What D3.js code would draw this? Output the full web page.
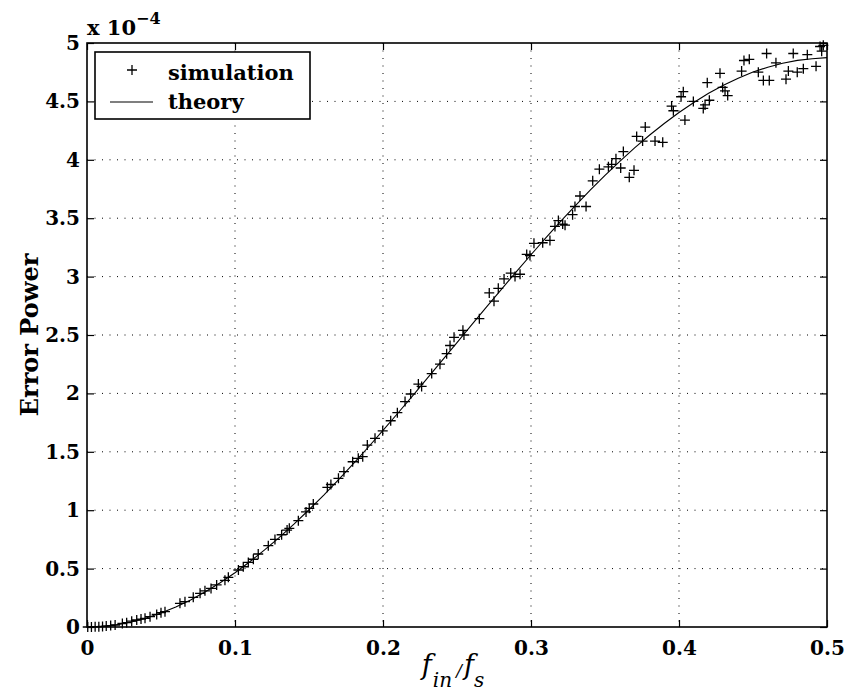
<!DOCTYPE html>
<html>
<head>
<meta charset="utf-8">
<script src="https://cdn.jsdelivr.net/npm/d3@7"></script>
<style>
  body { margin: 0; background: #fff; }
  svg { display: block; }
</style>
</head>
<body>
<div id="root"></div>
<script>
// values are in units of 1e-4 (axis multiplier shown as "x 10^-4")
const simX = [0.0005, 0.003, 0.0055, 0.008, 0.0105, 0.013, 0.016, 0.019,
  0.0239, 0.0268, 0.0302, 0.0336, 0.0365, 0.0392, 0.0426, 0.0471, 0.05, 0.0527,
  0.0628, 0.0662, 0.0718, 0.0764, 0.0797, 0.0838, 0.0876, 0.0932, 0.0955,
  0.1023, 0.1056, 0.109, 0.1124, 0.1157, 0.1225, 0.127, 0.1315, 0.1352, 0.1367,
  0.1428, 0.148, 0.1502, 0.1529, 0.1624, 0.1648, 0.1699, 0.1736, 0.1795, 0.1833,
  0.1863, 0.1894, 0.1946, 0.1998, 0.2052, 0.2097, 0.2149, 0.2187, 0.2239, 0.2261,
  0.2329, 0.2385, 0.243, 0.2453, 0.248, 0.254, 0.2547, 0.2651, 0.2718, 0.275,
  0.2779, 0.2818, 0.2863, 0.2892, 0.2926, 0.2971, 0.2993, 0.302, 0.3079, 0.3128,
  0.3162, 0.3185, 0.3214, 0.323, 0.3281, 0.3297, 0.3331, 0.3372, 0.3417, 0.3462,
  0.3523, 0.3545, 0.3574, 0.3606, 0.3624, 0.3664, 0.3696, 0.3714, 0.3754, 0.3772,
  0.3838, 0.389, 0.395, 0.3962, 0.4014, 0.4029, 0.404, 0.4097, 0.4164, 0.4176,
  0.4191, 0.4205, 0.4277, 0.4295, 0.4311, 0.4329, 0.4423, 0.4439, 0.4475, 0.4536,
  0.457, 0.4592, 0.461, 0.4655, 0.4723, 0.4739, 0.4772, 0.4799, 0.484, 0.4867,
  0.4926, 0.4953, 0.4964, 0.4975];
const simY = [0, 0.001, 0.002, 0.003, 0.005, 0.008, 0.012, 0.017,
  0.03, 0.037, 0.05, 0.06, 0.068, 0.074, 0.088, 0.108, 0.123, 0.131,
  0.203, 0.217, 0.254, 0.288, 0.31, 0.33, 0.36, 0.4, 0.425,
  0.488, 0.516, 0.553, 0.58, 0.625, 0.696, 0.75, 0.79, 0.83, 0.845,
  0.91, 0.985, 1.016, 1.053, 1.196, 1.22, 1.273, 1.33, 1.415, 1.444,
  1.458, 1.558, 1.615, 1.68, 1.766, 1.835, 1.93, 1.995, 2.08, 2.06,
  2.17, 2.25, 2.34, 2.41, 2.48, 2.54, 2.5, 2.64, 2.86, 2.79,
  2.9, 2.98, 3.03, 3.0, 3.02, 3.19, 3.18, 3.285, 3.29, 3.31,
  3.43, 3.48, 3.45, 3.44, 3.53, 3.6, 3.69, 3.6, 3.82, 3.92,
  3.94, 3.96, 4.01, 3.93, 4.07, 3.85, 3.91, 4.2, 4.16, 4.28,
  4.16, 4.15, 4.46, 4.42, 4.54, 4.583, 4.34, 4.5, 4.44, 4.47,
  4.66, 4.51, 4.74, 4.62, 4.59, 4.55, 4.76, 4.85, 4.86, 4.75,
  4.68, 4.91, 4.68, 4.83, 4.69, 4.76, 4.91, 4.75, 4.78, 4.9,
  4.8, 4.97, 4.93, 4.98];

const theoryX = [0, 0.01, 0.02, 0.03, 0.04, 0.05, 0.06, 0.07, 0.08, 0.09,
  0.1, 0.11, 0.12, 0.13, 0.14, 0.15, 0.16, 0.17, 0.18, 0.19,
  0.2, 0.21, 0.22, 0.23, 0.24, 0.25, 0.26, 0.27, 0.28, 0.29,
  0.3, 0.31, 0.32, 0.33, 0.34, 0.35, 0.36, 0.37, 0.38, 0.39,
  0.4, 0.41, 0.42, 0.43, 0.44, 0.45, 0.46, 0.47, 0.48, 0.49, 0.5];
const theoryY = [0, 0.005, 0.019, 0.043, 0.077, 0.119, 0.171, 0.232, 0.301, 0.379,
  0.465, 0.559, 0.66, 0.768, 0.883, 1.004, 1.13, 1.262, 1.398, 1.539,
  1.683, 1.83, 1.979, 2.13, 2.282, 2.435, 2.588, 2.74, 2.891, 3.04,
  3.187, 3.332, 3.472, 3.608, 3.74, 3.866, 3.987, 4.102, 4.21, 4.311,
  4.405, 4.491, 4.569, 4.638, 4.699, 4.751, 4.793, 4.827, 4.851, 4.865, 4.875];

const xTicks = [0, 0.1, 0.2, 0.3, 0.4, 0.5];
const xTickLabels = ["0", "0.1", "0.2", "0.3", "0.4", "0.5"];
const yTicks = [0, 0.5, 1, 1.5, 2, 2.5, 3, 3.5, 4, 4.5, 5];
const yTickLabels = ["0", "0.5", "1", "1.5", "2", "2.5", "3", "3.5", "4", "4.5", "5"];
const legendLabels = ["simulation", "theory"];

const w = 846;
const h = 700;
const pLeft = 87, pRight = 827, pTop = 43, pBottom = 627;
const font = "'DejaVu Serif', serif";

const xScale = d3.scaleLinear().domain([0, 0.5]).range([pLeft, pRight]);
const yScale = d3.scaleLinear().domain([0, 5]).range([pBottom, pTop]);

const svg = d3.select("#root")
  .append("svg")
  .attr("width", w)
  .attr("height", h)
  .style("background", "#fff");

// dotted grid
svg.append("g")
  .selectAll("line")
  .data(xTicks.slice(1, -1))
  .enter()
  .append("line")
  .attr("x1", d => xScale(d)).attr("x2", d => xScale(d))
  .attr("y1", pTop).attr("y2", pBottom)
  .attr("stroke", "#000")
  .attr("stroke-width", 1)
  .attr("stroke-dasharray", "1,6.5");

svg.append("g")
  .selectAll("line")
  .data(yTicks.slice(1, -1))
  .enter()
  .append("line")
  .attr("x1", pLeft).attr("x2", pRight)
  .attr("y1", d => yScale(d)).attr("y2", d => yScale(d))
  .attr("stroke", "#000")
  .attr("stroke-width", 1)
  .attr("stroke-dasharray", "1,6.5");

// axes, ticks pointing inward on all sides
const styleAxis = g => {
  g.select(".domain").remove();
  g.selectAll(".tick line").attr("stroke", "#000").attr("stroke-width", 1.2);
  g.selectAll("text")
    .attr("fill", "#000")
    .style("font-family", font)
    .style("font-weight", "bold")
    .style("font-size", "20px");
};

svg.append("g")
  .attr("transform", `translate(0, ${pBottom})`)
  .call(d3.axisBottom(xScale).tickValues(xTicks)
    .tickFormat((d, i) => xTickLabels[i])
    .tickSizeInner(-7).tickSizeOuter(0).tickPadding(14))
  .call(styleAxis);

svg.append("g")
  .attr("transform", `translate(0, ${pTop})`)
  .call(d3.axisTop(xScale).tickValues(xTicks).tickFormat("")
    .tickSizeInner(-7).tickSizeOuter(0))
  .call(styleAxis);

svg.append("g")
  .attr("transform", `translate(${pLeft}, 0)`)
  .call(d3.axisLeft(yScale).tickValues(yTicks)
    .tickFormat((d, i) => yTickLabels[i])
    .tickSizeInner(-7).tickSizeOuter(0).tickPadding(7))
  .call(styleAxis);

svg.append("g")
  .attr("transform", `translate(${pRight}, 0)`)
  .call(d3.axisRight(yScale).tickValues(yTicks).tickFormat("")
    .tickSizeInner(-7).tickSizeOuter(0))
  .call(styleAxis);

svg.append("rect")
  .attr("x", pLeft).attr("y", pTop)
  .attr("width", pRight - pLeft).attr("height", pBottom - pTop)
  .attr("fill", "none")
  .attr("stroke", "#000")
  .attr("stroke-width", 1.6);

// theory line
const line = d3.line()
  .x((d, i) => xScale(theoryX[i]))
  .y((d, i) => yScale(theoryY[i]));

svg.append("path")
  .datum(theoryY)
  .attr("d", line)
  .attr("fill", "none")
  .attr("stroke", "#000")
  .attr("stroke-width", 1.1);

// simulation markers
const plus = (x, y, r) => `M${x - r},${y}H${x + r}M${x},${y - r}V${y + r}`;

svg.append("path")
  .attr("d", simX.map((d, i) => plus(xScale(d), yScale(simY[i]), 5)).join(""))
  .attr("fill", "none")
  .attr("stroke", "#000")
  .attr("stroke-width", 1.3);

// multiplier label
const mult = svg.append("text")
  .attr("x", pLeft)
  .attr("y", 35)
  .style("font-family", font)
  .style("font-weight", "bold")
  .style("font-size", "21px");
mult.append("tspan").text("x 10");
mult.append("tspan").attr("dy", -11).style("font-size", "16px").text("\u22124");

// axis labels
svg.append("text")
  .attr("transform", `translate(38, ${(pTop + pBottom) / 2}) rotate(-90)`)
  .attr("text-anchor", "middle")
  .style("font-family", font)
  .style("font-weight", "bold")
  .style("font-size", "24px")
  .text("Error Power");

const xl = svg.append("text")
  .attr("x", 453)
  .attr("y", 674)
  .attr("text-anchor", "middle")
  .style("font-family", font)
  .style("font-style", "italic")
  .style("font-size", "27px");
xl.append("tspan").text("f");
xl.append("tspan").attr("dy", 13).attr("dx", 1).style("font-size", "20px").text("in");
xl.append("tspan").attr("dy", -11).attr("dx", 4).style("font-size", "17px").text("/");
xl.append("tspan").attr("dy", -2).attr("dx", 2).text("f");
xl.append("tspan").attr("dy", 13).style("font-size", "20px").text("s");

// legend
const legend = svg.append("g");
legend.append("rect")
  .attr("x", 95).attr("y", 52)
  .attr("width", 215).attr("height", 67)
  .attr("fill", "#fff")
  .attr("stroke", "#000")
  .attr("stroke-width", 1.6);
legend.append("path")
  .attr("d", plus(132, 70, 5))
  .attr("stroke", "#000")
  .attr("stroke-width", 1.3);
legend.append("line")
  .attr("x1", 110).attr("x2", 153)
  .attr("y1", 102).attr("y2", 102)
  .attr("stroke", "#000")
  .attr("stroke-width", 1.1);
legend.selectAll("text")
  .data(legendLabels)
  .enter()
  .append("text")
  .attr("x", 168)
  .attr("y", (d, i) => 80 + i * 29)
  .style("font-family", font)
  .style("font-weight", "bold")
  .style("font-size", "21px")
  .text(d => d);
</script>
</body>
</html>
